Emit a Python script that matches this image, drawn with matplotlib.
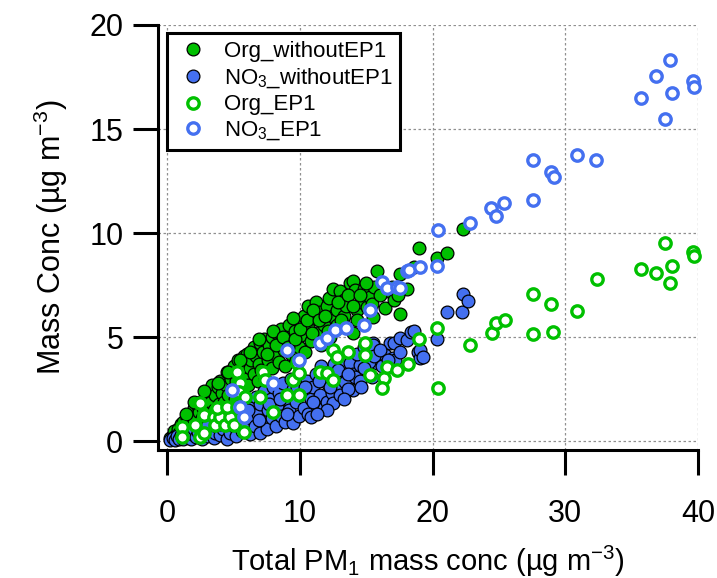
import numpy as np
import matplotlib
matplotlib.use('Agg')
import matplotlib.pyplot as plt

plt.rcParams['font.family'] = ['Liberation Sans', 'DejaVu Sans']
plt.rcParams['mathtext.fontset'] = 'custom'
plt.rcParams['mathtext.rm'] = 'Liberation Sans'
plt.rcParams['mathtext.it'] = 'Liberation Sans'

# ---------------------------------------------------------------
# Mass concentrations (ug m-3): columns are total PM1, species
# ---------------------------------------------------------------
org_without = np.array([
    (0.2, 0.15), (0.4, 0.3), (0.5, 0.5), (0.6, 0.25), (0.8, 0.6), (0.9, 0.4), (1.0, 0.8), (1.1, 0.5),
    (1.2, 0.9), (1.3, 0.6), (1.5, 1.1), (1.5, 0.7), (1.7, 0.9), (1.8, 1.3), (2.0, 1.6), (2.0, 1.0), (2.2, 1.2),
    (2.3, 1.7), (2.4, 1.4), (2.5, 1.9), (2.6, 1.1), (2.7, 1.6), (2.9, 2.1), (3.0, 1.3), (3.0, 1.8),
    (3.2, 2.4), (3.3, 1.9), (3.4, 2.7), (3.5, 1.5), (3.6, 2.2), (3.8, 2.6), (3.9, 1.8), (4.0, 2.9),
    (4.1, 2.3), (4.3, 1.9), (4.4, 2.7), (4.5, 3.3), (4.6, 2.2), (4.8, 3.0), (4.9, 2.5), (5.0, 3.6),
    (5.1, 2.0), (5.2, 2.9), (5.3, 3.9), (5.4, 3.3), (5.6, 2.6), (5.7, 3.6), (5.8, 4.1), (5.9, 3.0), (6.0, 4.2),
    (6.1, 2.7), (6.2, 3.5), (6.3, 3.9), (6.5, 4.5), (6.5, 3.2), (6.7, 4.1), (6.8, 2.9), (6.9, 3.7), (7.0, 4.7),
    (7.1, 3.4), (7.2, 4.3), (7.3, 4.9), (7.4, 3.0), (7.6, 3.9), (7.7, 4.6), (7.9, 5.0), (7.9, 3.5),
    (8.1, 4.2), (8.3, 5.2), (8.4, 3.8), (8.5, 4.7), (8.6, 5.4), (8.8, 4.4), (8.9, 3.6), (9.0, 5.0),
    (9.2, 5.6), (9.3, 4.2), (9.4, 4.8), (9.6, 5.3), (9.7, 3.9), (9.9, 5.8), (9.9, 4.5),
    (10.1, 5.1), (10.3, 6.0), (10.4, 4.3), (10.6, 6.5), (10.6, 5.5), (10.8, 4.8), (11.0, 5.9),
    (11.2, 6.7), (11.3, 5.2), (11.5, 6.2), (11.6, 4.6), (11.8, 5.6), (12.0, 6.5),
    (12.2, 6.9), (12.3, 5.0), (12.5, 7.3), (12.5, 6.0), (12.7, 5.4), (12.8, 6.3), (12.8, 5.6), (13.0, 7.2),
    (13.3, 6.8), (13.3, 6.0), (13.5, 5.5), (13.5, 6.5), (13.8, 7.6), (14.0, 7.7), (14.0, 5.2),
    (14.15, 7.26), (14.3, 6.3), (14.3, 5.8), (14.8, 7.29), (14.6, 6.7),
    (15.05, 6.46), (15.3, 6.94), (15.5, 5.97), (15.8, 8.19), (15.6, 7.4),
    (16.4, 6.41), (16.5, 7.2), (17.05, 6.78), (17.55, 6.1), (18.1, 7.29), (17.55, 8.03),
    (18.6, 8.38), (19.0, 9.26), (20.3, 8.78), (21.07, 9.02), (22.27, 10.18),
    (1.4, 1.3), (2.0, 1.9), (2.8, 2.4), (3.8, 2.8), (4.6, 3.3), (5.5, 3.9), (6.2, 4.3), (6.9, 4.9),
    (7.5, 4.2), (8.0, 5.3), (8.2, 4.6), (8.7, 5.0), (9.1, 4.5), (9.5, 5.9), (9.6, 4.9), (10.0, 5.4),
    (10.5, 5.8), (10.9, 5.2), (11.0, 6.3), (11.4, 5.8), (11.9, 6.0), (12.1, 5.3), (12.9, 6.7),
    (13.1, 5.8), (13.6, 7.0), (14.0, 6.5), (14.5, 7.0), (15.0, 7.6), (15.4, 6.6), (16.0, 7.0),
    (16.9, 7.4), (17.4, 7.0),
])

no3_without = np.array([
    (0.2, 0.05), (0.4, 0.15), (0.6, 0.05), (0.7, 0.25), (0.9, 0.1), (1.0, 0.3),
    (1.2, 0.1), (1.3, 0.4), (1.5, 0.2), (1.6, 0.5), (1.8, 0.1), (1.9, 0.35), (2.0, 0.6),
    (2.2, 0.2), (2.3, 0.45), (2.5, 0.7), (2.6, 0.1), (2.7, 0.4), (2.9, 0.8), (3.0, 0.25),
    (3.2, 0.55), (3.3, 0.9), (3.5, 0.15), (3.6, 0.4), (3.7, 0.7), (3.9, 1.0), (4.0, 0.3),
    (4.2, 0.6), (4.3, 1.1), (4.5, 0.1), (4.5, 0.85), (4.7, 0.4), (4.8, 1.2), (5.0, 0.7),
    (5.1, 1.5), (5.2, 0.25), (5.4, 1.0), (5.5, 1.7), (5.6, 0.5), (5.8, 1.3), (5.9, 0.8), (6.0, 2.0),
    (6.2, 0.35), (6.3, 1.1), (6.4, 1.6), (6.6, 0.7), (6.7, 2.1), (6.8, 1.3), (7.0, 0.4), (7.0, 1.8),
    (7.2, 1.0), (7.3, 2.4), (7.5, 0.6), (7.6, 1.5), (7.8, 2.0), (7.9, 1.1), (8.0, 2.6),
    (8.2, 0.7), (8.3, 1.7), (8.4, 2.3), (8.6, 1.2), (8.7, 2.8), (8.9, 0.9), (9.0, 2.0),
    (9.2, 1.5), (9.3, 3.0), (9.5, 0.85), (9.5, 2.5), (9.7, 1.9), (9.9, 1.2), (10.0, 3.1),
    (10.2, 2.3), (10.3, 1.6), (10.5, 2.9), (10.6, 1.3), (10.8, 2.0), (10.8, 1.17), (11.0, 2.6),
    (11.2, 3.2), (11.3, 1.7), (11.5, 2.2), (11.6, 3.6), (11.8, 1.6), (12.0, 2.8), (12.0, 1.9),
    (12.2, 3.3), (12.4, 2.3), (12.5, 1.85), (12.6, 3.7), (12.8, 2.7), (13.0, 2.21), (13.0, 3.1),
    (13.15, 3.41), (13.4, 2.85), (13.4, 3.57), (13.5, 3.73), (13.8, 3.73), (14.0, 2.45), (14.0, 3.2),
    (14.15, 3.09), (14.5, 3.65), (14.3, 4.2), (14.8, 4.5), (15.05, 3.41), (15.5, 4.7), (15.8, 3.73),
    (15.2, 3.81), (15.5, 4.62), (16.4, 4.13), (16.8, 4.7), (17.0, 4.0), (17.05, 4.7), (17.2, 3.9),
    (17.55, 4.94), (17.55, 4.3), (18.05, 4.86), (18.4, 5.26), (18.6, 5.3), (18.9, 4.3), (19.06, 3.97),
    (19.06, 4.38), (19.3, 4.05), (20.3, 4.92), (21.07, 6.22), (22.2, 6.19), (22.3, 7.05), (22.7, 6.73),
    (3.0, 0.7), (4.0, 0.8), (5.3, 1.2), (6.1, 1.5), (6.9, 1.0), (7.7, 1.8), (8.5, 2.0), (9.0, 1.3),
    (9.8, 2.6), (10.4, 2.6), (11.0, 1.9), (11.4, 2.9), (12.3, 2.6), (12.9, 3.4), (13.6, 3.2),
    (13.6, 2.5), (14.5, 2.9), (14.8, 3.5), (15.6, 4.1), (16.0, 4.4), (16.2, 3.6), (16.6, 3.9),
    (13.3, 2.0), (12.0, 1.5), (11.3, 1.3), (14.6, 2.6), (15.4, 3.1),
])

org_ep1 = np.array([
    (1.1, 0.69), (1.1, 0.21), (2.1, 0.77), (2.5, 0.21), (2.74, 1.25), (2.74, 0.37), (3.5, 1.17),
    (3.6, 0.77), (4.0, 1.17), (4.37, 0.77), (4.75, 1.17), (3.74, 1.57), (4.5, 1.65), (2.5, 1.81),
    (5.25, 1.65), (5.75, 0.45), (5.0, 0.77),
    (5.25, 3.33), (5.5, 2.77), (5.37, 2.37), (5.87, 2.13), (7.25, 3.33), (7.38, 2.93), (7.0, 2.13),
    (8.0, 1.41), (9.0, 2.21), (9.9, 2.21), (9.5, 2.93), (9.77, 3.73), (9.9, 3.25), (11.5, 3.33),
    (12.0, 3.25), (12.5, 2.93), (12.5, 4.38), (12.8, 4.05), (13.65, 4.3), (14.9, 4.7), (14.9, 4.13),
    (15.3, 3.17), (16.3, 3.01), (16.55, 3.57), (16.17, 2.53), (17.35, 3.41), (18.15, 3.7),
    (19.0, 4.92), (20.3, 5.42), (20.4, 2.53), (22.8, 4.6), (24.45, 5.18), (24.8, 5.69),
    (25.45, 5.8), (27.55, 5.13), (29.1, 5.22), (27.6, 7.07), (28.9, 6.6), (30.9, 6.25),
    (32.35, 7.77), (35.7, 8.25), (36.8, 8.09), (37.5, 9.53), (37.9, 7.58), (38.05, 8.43),
    (39.65, 9.1), (39.7, 8.9),
])

no3_ep1 = np.array([
    (5.5, 1.65), (4.87, 2.45), (5.75, 1.17), (8.0, 2.77), (9.9, 3.9), (9.0, 4.38),
    (11.5, 4.7), (12.0, 4.94), (12.65, 5.34), (13.5, 5.42), (14.8, 5.58), (15.3, 6.3),
    (16.17, 7.66), (16.55, 7.34), (17.3, 7.42), (17.55, 7.36), (18.1, 8.19), (18.2, 8.22),
    (19.05, 8.37), (20.3, 8.43), (20.4, 10.14), (22.85, 10.48), (24.4, 11.2), (24.75, 10.83),
    (25.4, 11.44), (27.6, 11.6), (27.55, 13.52), (28.9, 12.95), (29.15, 12.7), (30.9, 13.76),
    (32.3, 13.5), (35.7, 16.5), (36.8, 17.55), (37.5, 15.5), (37.9, 18.33), (38.05, 16.75),
    (39.65, 17.3), (39.7, 17.0),
])

green = '#00c000'
blue = '#4470f0'

fig = plt.figure(figsize=(7.17, 5.78), dpi=100)
ax = fig.add_axes([158 / 717, 1 - 450 / 578, 540 / 717, 425 / 578])

ax.plot(org_without[:, 0], org_without[:, 1], 'o', ms=9.2, mfc=green, mec='black', mew=0.9,
        clip_on=False, label='Org_withoutEP1', zorder=3)
ax.plot(no3_without[:, 0], no3_without[:, 1], 'o', ms=9.2, mfc=blue, mec='black', mew=0.9,
        clip_on=False, label='NO$_3$_withoutEP1', zorder=3)
ax.plot(org_ep1[:, 0], org_ep1[:, 1], 'o', ms=8.2, mfc='white', mec=green, mew=2.4,
        clip_on=False, label='Org_EP1', zorder=4)
ax.plot(no3_ep1[:, 0], no3_ep1[:, 1], 'o', ms=8.2, mfc='white', mec=blue, mew=2.4,
        clip_on=False, label='NO$_3$_EP1', zorder=4)

ax.set_xlim(-0.7, 40)
ax.set_ylim(-0.43, 20)
ax.set_xticks([0, 10, 20, 30, 40])
ax.set_yticks([0, 5, 10, 15, 20])
ax.grid(True, color='#909090', linestyle=(0, (2, 2)), linewidth=0.9)
ax.set_axisbelow(True)

for side in ['top', 'right']:
    ax.spines[side].set_visible(False)
for side in ['left', 'bottom']:
    ax.spines[side].set_linewidth(2.2)

ax.tick_params(axis='both', direction='out', length=18, width=2.2, labelsize=22)
ax.tick_params(axis='x', pad=17)
ax.tick_params(axis='y', pad=7)

ax.set_xlabel('Total PM$_1$ mass conc (µg m$^{-3}$)', fontsize=21, labelpad=11)
ax.set_ylabel('Mass Conc (µg m$^{-3}$)', fontsize=22, labelpad=14)

leg = ax.legend(loc='upper left', bbox_to_anchor=(0.017, 0.981), fontsize=16,
                frameon=True, fancybox=False, edgecolor='black', framealpha=1,
                borderpad=0.35, labelspacing=0.2, handletextpad=0.6, handlelength=1.6,
                borderaxespad=0)
leg.get_frame().set_linewidth(2.2)
leg.set_zorder(10)

fig.savefig('out.png', dpi=100)
